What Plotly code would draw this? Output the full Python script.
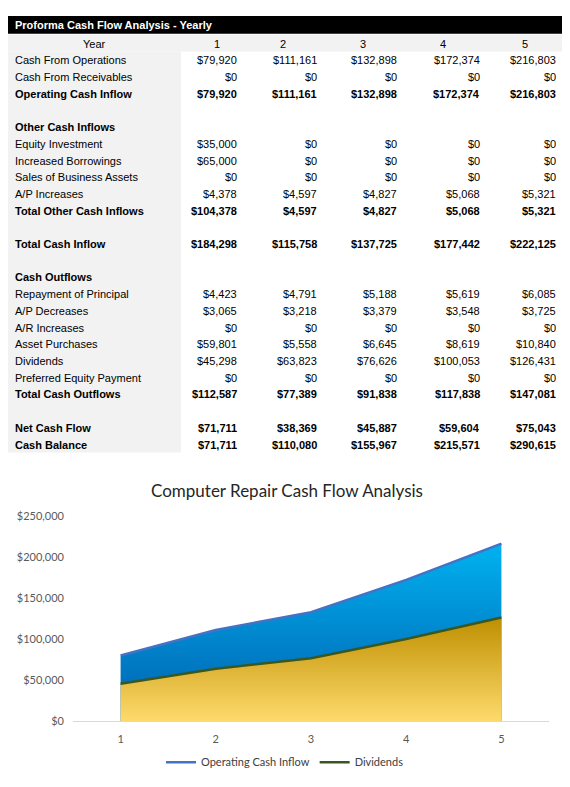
import plotly.graph_objects as go

# table data
years = ["1", "2", "3", "4", "5"]
row_labels = [
    "Cash From Operations", "Cash From Receivables", "Operating Cash Inflow", "",
    "Other Cash Inflows", "Equity Investment", "Increased Borrowings",
    "Sales of Business Assets", "A/P Increases", "Total Other Cash Inflows", "",
    "Total Cash Inflow", "", "Cash Outflows", "Repayment of Principal",
    "A/P Decreases", "A/R Increases", "Asset Purchases", "Dividends",
    "Preferred Equity Payment", "Total Cash Outflows", "",
    "Net Cash Flow", "Cash Balance",
]
bold_rows = ["Operating Cash Inflow", "Other Cash Inflows", "Total Other Cash Inflows",
             "Total Cash Inflow", "Cash Outflows", "Total Cash Outflows",
             "Net Cash Flow", "Cash Balance"]

cash_from_operations = [79920, 111161, 132898, 172374, 216803]
cash_from_receivables = [0, 0, 0, 0, 0]
operating_cash_inflow = [79920, 111161, 132898, 172374, 216803]
equity_investment = [35000, 0, 0, 0, 0]
increased_borrowings = [65000, 0, 0, 0, 0]
sales_of_assets = [0, 0, 0, 0, 0]
ap_increases = [4378, 4597, 4827, 5068, 5321]
total_other_inflows = [104378, 4597, 4827, 5068, 5321]
total_cash_inflow = [184298, 115758, 137725, 177442, 222125]
repayment_principal = [4423, 4791, 5188, 5619, 6085]
ap_decreases = [3065, 3218, 3379, 3548, 3725]
ar_increases = [0, 0, 0, 0, 0]
asset_purchases = [59801, 5558, 6645, 8619, 10840]
dividends = [45298, 63823, 76626, 100053, 126431]
preferred_equity = [0, 0, 0, 0, 0]
total_cash_outflows = [112587, 77389, 91838, 117838, 147081]
net_cash_flow = [71711, 38369, 45887, 59604, 75043]
cash_balance = [71711, 110080, 155967, 215571, 290615]

row_values = {
    "Cash From Operations": cash_from_operations,
    "Cash From Receivables": cash_from_receivables,
    "Operating Cash Inflow": operating_cash_inflow,
    "Equity Investment": equity_investment,
    "Increased Borrowings": increased_borrowings,
    "Sales of Business Assets": sales_of_assets,
    "A/P Increases": ap_increases,
    "Total Other Cash Inflows": total_other_inflows,
    "Total Cash Inflow": total_cash_inflow,
    "Repayment of Principal": repayment_principal,
    "A/P Decreases": ap_decreases,
    "A/R Increases": ar_increases,
    "Asset Purchases": asset_purchases,
    "Dividends": dividends,
    "Preferred Equity Payment": preferred_equity,
    "Total Cash Outflows": total_cash_outflows,
    "Net Cash Flow": net_cash_flow,
    "Cash Balance": cash_balance,
}

# the page body has an 8px margin, so the figure is drawn 8px in from the corner
PAD = 8
FW, FH = 570 - 2 * PAD, 787 - 2 * PAD


def fx(px):
    return (px - PAD) / FW


def fy(py):
    return 1 - (py - PAD) / FH


GRAY = "#f2f2f2"
TFONT = "Liberation Sans"
ROW_H = 17
year_row_y = 37
value_right = [238, 318, 398, 481, 557]
year_center = [217, 283, 363, 443, 525]

shapes = [
    dict(type="rect", xref="paper", yref="paper", x0=fx(8), x1=fx(563),
         y0=fy(27), y1=fy(9), fillcolor="black", line_width=0, layer="below"),
    dict(type="rect", xref="paper", yref="paper", x0=fx(8), x1=fx(563),
         y0=fy(45), y1=fy(28), fillcolor=GRAY, line_width=0, layer="below"),
    dict(type="rect", xref="paper", yref="paper", x0=fx(8), x1=fx(181),
         y0=fy(453), y1=fy(45), fillcolor=GRAY, line_width=0, layer="below"),
]

annotations = [dict(text="<b>Proforma Cash Flow Analysis - Yearly</b>", x=fx(14), y=fy(18),
                    xanchor="left", font=dict(family=TFONT, size=11, color="white"))]
annotations.append(dict(text="Year", x=fx(94), y=fy(year_row_y), xanchor="center",
                        font=dict(family=TFONT, size=11, color="black")))
for yr, xc in zip(years, year_center):
    annotations.append(dict(text=yr, x=fx(xc), y=fy(year_row_y), xanchor="center",
                            font=dict(family=TFONT, size=11, color="black")))

for i, label in enumerate(row_labels):
    if not label:
        continue
    yc = year_row_y + ROW_H * (i + 1)
    bold = label in bold_rows
    txt = "<b>" + label + "</b>" if bold else label
    annotations.append(dict(text=txt, x=fx(14), y=fy(yc), xanchor="left",
                            font=dict(family=TFONT, size=11, color="black")))
    if label in row_values:
        for v, xr in zip(row_values[label], value_right):
            s = "${:,.0f}".format(v)
            if bold:
                s = "<b>" + s + "</b>"
            annotations.append(dict(text=s, x=fx(xr), y=fy(yc), xanchor="right",
                                    font=dict(family=TFONT, size=11, color="black")))

for a in annotations:
    a.update(xref="paper", yref="paper", yanchor="middle", showarrow=False, borderpad=0)

# chart
chart_x = [1, 2, 3, 4, 5]

fig = go.Figure()
fig.add_trace(go.Scatter(
    x=chart_x, y=operating_cash_inflow, mode="lines", line=dict(width=0),
    fill="tozeroy", showlegend=False, hoverinfo="skip",
    fillgradient=dict(type="vertical", colorscale=[[0, "#005fae"], [1, "#00b2f0"]]),
))
fig.add_trace(go.Scatter(
    x=chart_x, y=operating_cash_inflow, mode="lines", name="Operating Cash Inflow",
    line=dict(color="#4472c4", width=2.5),
))
fig.add_trace(go.Scatter(
    x=chart_x, y=dividends, mode="lines", line=dict(width=0),
    fill="tozeroy", showlegend=False, hoverinfo="skip",
    fillgradient=dict(type="vertical", colorscale=[[0, "#fdda6c"], [1, "#bf8f00"]]),
))
fig.add_trace(go.Scatter(
    x=chart_x, y=dividends, mode="lines", name="Dividends",
    line=dict(color="#385723", width=2.5),
))

fig.update_layout(
    width=FW, height=FH,
    margin=dict(l=0, r=0, t=0, b=0),
    paper_bgcolor="white", plot_bgcolor="white",
    font=dict(family="Lato", size=11, color="#595959"),
    title=dict(text="Computer Repair Cash Flow Analysis", x=fx(287), xanchor="center",
               y=fy(491), yanchor="middle",
               font=dict(family="Lato", size=17, color="#262626")),
    xaxis=dict(domain=[fx(73), fx(549)], range=[0.5, 5.5], tickvals=chart_x,
               ticktext=years, showgrid=False, zeroline=False, ticklabelstandoff=8,
               showline=True, linecolor="#d9d9d9", linewidth=1, ticks=""),
    yaxis=dict(domain=[fy(726), fy(518)], range=[0, 250000], dtick=50000,
               tickprefix="$", tickformat=",.0f", showgrid=False, zeroline=False,
               showline=False, ticks="", ticklabelstandoff=8),
    legend=dict(orientation="h", x=fx(285), xanchor="center", y=fy(768),
                yanchor="middle", font=dict(family="Lato", size=11, color="#404040")),
    shapes=shapes,
    annotations=annotations,
)

fig.write_html("out.html")
